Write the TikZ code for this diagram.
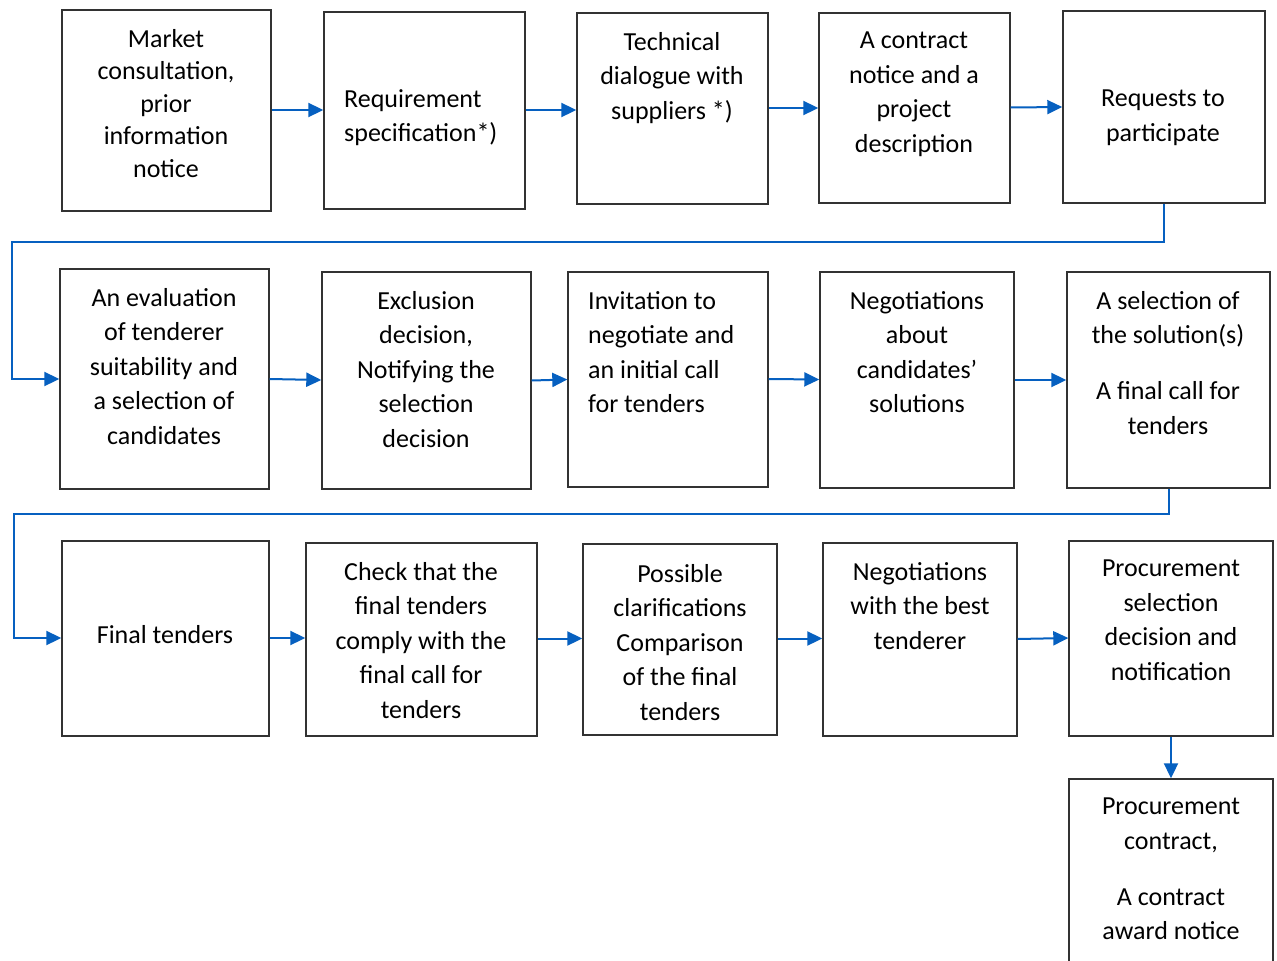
\documentclass[tikz,border=0pt]{standalone}
\usepackage{fontspec}
\setmainfont{Carlito}
\usetikzlibrary{arrows.meta}
\definecolor{flowblue}{RGB}{6,96,192}
\definecolor{boxline}{RGB}{50,50,50}
\tikzset{
  box/.style={draw=boxline, line width=1.4pt, rectangle, inner sep=0pt, fill=white},
  txt/.style={inner sep=0pt, align=center, font=\fontsize{26}{34.5}\selectfont, anchor=north, execute at begin node=\strut, yshift=-7pt},
  txtl/.style={txt, align=left, anchor=north west},
  arr/.style={draw=flowblue, line width=2pt, -{Triangle[length=15pt,width=14pt]}},
}
\begin{document}
\begin{tikzpicture}[x=1pt,y=-1pt]
\useasboundingbox (0,0) rectangle (1277,961);
\clip (0,0) rectangle (1277,961);
\fill[white] (0,0) rectangle (1277,961);
% row 1
\node[box, minimum width=209pt, minimum height=201pt] (b1) at (166.5,110.5) {};
\node[box, minimum width=201pt, minimum height=197pt] (b2) at (424.5,110.5) {};
\node[box, minimum width=191pt, minimum height=191pt] (b3) at (672.5,108.5) {};
\node[box, minimum width=191pt, minimum height=190pt] (b4) at (914.5,108) {};
\node[box, minimum width=202pt, minimum height=192pt] (b5) at (1164,107) {};
% row 2
\node[box, minimum width=209pt, minimum height=220pt] (b6) at (164.5,379) {};
\node[box, minimum width=209pt, minimum height=217pt] (b7) at (426.5,380.5) {};
\node[box, minimum width=200pt, minimum height=215pt] (b8) at (668,379.5) {};
\node[box, minimum width=194pt, minimum height=216pt] (b9) at (917,380) {};
\node[box, minimum width=203pt, minimum height=216pt] (b10) at (1168.5,380) {};
% row 3
\node[box, minimum width=207pt, minimum height=195pt] (b11) at (165.5,638.5) {};
\node[box, minimum width=231pt, minimum height=193pt] (b12) at (421.5,639.5) {};
\node[box, minimum width=194pt, minimum height=191pt] (b13) at (680,639.5) {};
\node[box, minimum width=194pt, minimum height=193pt] (b14) at (920,639.5) {};
\node[box, minimum width=204pt, minimum height=195pt] (b15) at (1171,638.5) {};
\node[box, minimum width=204pt, minimum height=221pt] (b16) at (1171,889.5) {};
% texts
\node[txt, font=\fontsize{26}{32.5}\selectfont] (t1) at (166,22) {Market\\consultation,\\prior\\information\\notice};
\node[txtl] (t2) at (344,82) {Requirement\\specification*)};
\node[txt] (t3) at (672,25) {Technical\\dialogue with\\suppliers *)};
\node[txt] (t4) at (914,25) {A contract\\notice and a\\project\\description};
\node[txt] (t5) at (1163,83) {Requests to\\participate};
\node[txt] (t6) at (164,281) {An evaluation\\of tenderer\\suitability and\\a selection of\\candidates};
\node[txt] (t7) at (426,284) {Exclusion\\decision,\\Notifying the\\selection\\decision};
\node[txtl] (t8) at (588,284) {Invitation to\\negotiate and\\an initial call\\for tenders};
\node[txt] (t9) at (917,284) {Negotiations\\about\\candidates’\\solutions};
\node[txt] (t10) at (1168,284) {A selection of\\the solution(s)\\[21.5pt]A final call for\\tenders};
\node[txt] (t11) at (165,612) {Final tenders};
\node[txt] (t12) at (421,555) {Check that the\\final tenders\\comply with the\\final call for\\tenders};
\node[txt] (t13) at (680,557) {Possible\\clarifications\\Comparison\\of the final\\tenders};
\node[txt] (t14) at (920,555) {Negotiations\\with the best\\tenderer};
\node[txt] (t15) at (1171,553) {Procurement\\selection\\decision and\\notification};
\node[txt] (t16) at (1171,791) {Procurement\\contract,\\[21.5pt]A contract\\award notice};
% row 1 arrows
\draw[arr] (b1.east |- 0,110) -- (b2.west |- 0,110);
\draw[arr] (b2.east |- 0,110) -- (b3.west |- 0,110);
\draw[arr] (b3.east |- 0,108) -- (b4.west |- 0,108);
\draw[arr] (b4.east |- 0,107.5) -- (b5.west |- 0,107);
% wrap 1
\draw[arr] (b5.south) -- (b5.south |- 0,242) -- (12,242) -- (12,379) -- (b6.west |- 0,379);
% row 2 arrows
\draw[arr] (b6.east |- 0,379) -- (b7.west |- 0,380);
\draw[arr] (b7.east |- 0,380.5) -- (b8.west |- 0,379.5);
\draw[arr] (b8.east |- 0,379) -- (b9.west |- 0,379.5);
\draw[arr] (b9.east |- 0,380) -- (b10.west |- 0,380);
% wrap 2
\draw[arr] (b10.south) -- (b10.south |- 0,514) -- (14,514) -- (14,638) -- (b11.west |- 0,638);
% row 3 arrows
\draw[arr] (b11.east |- 0,638) -- (b12.west |- 0,638);
\draw[arr] (b12.east |- 0,638.5) -- (b13.west |- 0,638.5);
\draw[arr] (b13.east |- 0,638.5) -- (b14.west |- 0,638.5);
\draw[arr] (b14.east |- 0,639) -- (b15.west |- 0,638);
\draw[arr] (b15.south) -- (b16.north);
\end{tikzpicture}
\end{document}
